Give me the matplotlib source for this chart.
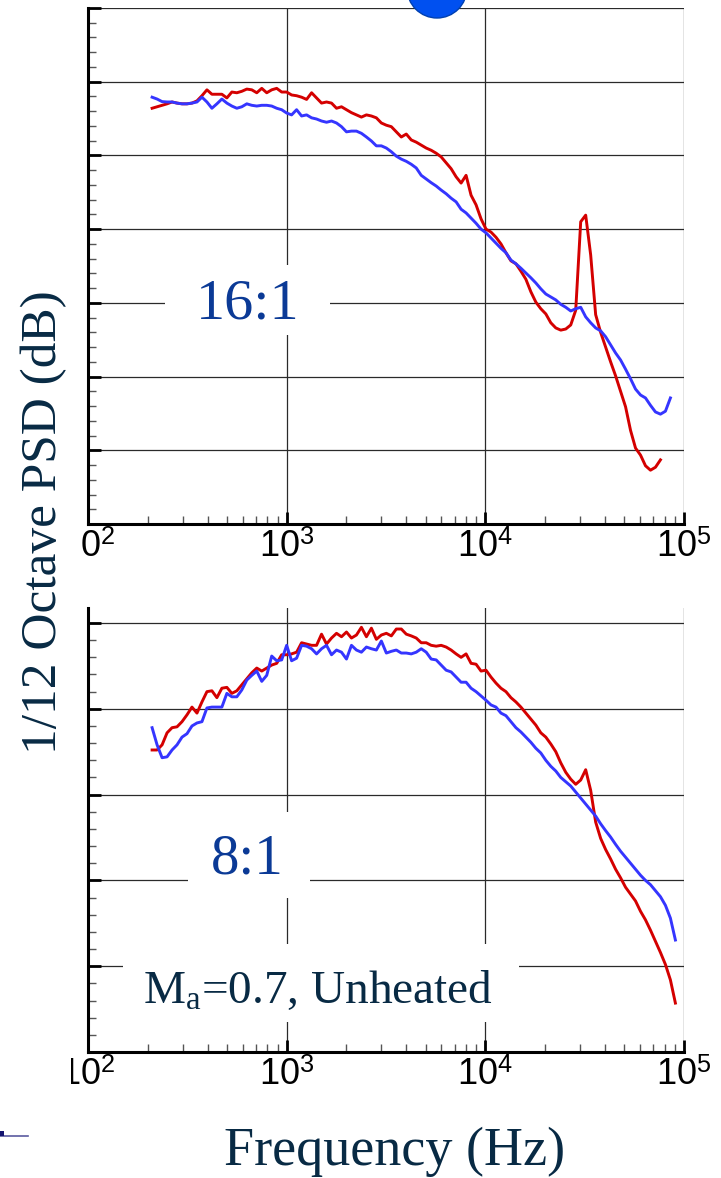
import matplotlib.pyplot as plt
from matplotlib.patches import Rectangle, Ellipse
from matplotlib.lines import Line2D
from matplotlib.ticker import MultipleLocator, NullFormatter, LogLocator

plt.rcParams['font.family'] = ['Liberation Serif', 'DejaVu Serif']
plt.rcParams['mathtext.fontset'] = 'custom'
plt.rcParams['mathtext.rm'] = 'Liberation Serif'
plt.rcParams['mathtext.it'] = 'Liberation Serif:italic'
plt.rcParams['mathtext.sf'] = 'Liberation Sans'

# 1/12 octave band centre frequencies (Hz)
freq = [210.2, 222.7, 236.0, 250.0, 264.9, 280.6, 297.3, 315.0, 333.7, 353.6,
        374.6, 396.9, 420.4, 445.4, 471.9, 500.0, 529.7, 561.2, 594.6, 630.0,
        667.4, 707.1, 749.2, 793.7, 840.9, 890.9, 943.9, 1000, 1059, 1122,
        1189, 1260, 1335, 1414, 1498, 1587, 1682, 1782, 1888, 2000,
        2119, 2245, 2378, 2520, 2670, 2828, 2997, 3175, 3364, 3564,
        3776, 4000, 4238, 4490, 4757, 5040, 5339, 5657, 5993, 6350,
        6727, 7127, 7551, 8000, 8476, 8980, 9514, 10079, 10679, 11314,
        11986, 12699, 13454, 14254, 15102, 16000, 16951, 17959, 19027, 20159,
        21357, 22627, 23973, 25398, 26909, 28509, 30204, 32000, 33903, 35919,
        38055, 40318, 42715, 45255, 47946, 50797, 53817, 57018, 60408, 64000,
        67806, 71838, 76109, 80635, 85430, 90510]

# 16:1 nozzle
psd16_red = [116.4, 116.6, 116.8, 117.0, 117.25, 117.1, 117.0, 117.0, 117.1, 117.4,
             118.1, 118.9, 118.3, 118.3, 118.3, 117.8, 118.6, 118.5, 118.7, 119.0,
             118.9, 118.5, 119.1, 118.5, 118.9, 119.1, 118.6, 118.6, 118.2, 118.1,
             117.9, 117.6, 118.5, 117.8, 117.1, 117.25, 117.1, 116.4, 116.6, 116.2,
             115.8, 115.5, 115.2, 115.5, 115.35, 115.1, 114.4, 114.1, 113.9, 113.2,
             112.5, 112.9, 112.1, 111.8, 111.4, 111.0, 110.7, 110.3, 109.8, 109.0,
             108.2, 107.1, 106.25, 107.3, 104.6, 103.3, 101.4, 100.0, 99.6, 98.9,
             98.0, 96.8, 95.7, 95.3, 94.3, 93.2, 91.5, 90.1, 89.2, 88.5,
             87.3, 86.6, 86.3, 86.45, 87.0, 89.0, 101.0, 101.9, 96.5, 88.4,
             86.0, 84.0, 82.0, 80.1, 78.0, 75.9, 72.7, 70.3, 69.35, 67.9,
             67.3, 67.7, 68.7]
psd16_blue = [117.9, 117.65, 117.3, 117.25, 117.25, 117.1, 117.0, 117.0, 117.1, 117.25,
              117.9, 117.25, 116.4, 117.0, 117.65, 117.1, 116.7, 116.4, 116.6, 117.0,
              116.8, 116.7, 116.8, 116.8, 116.7, 116.4, 116.2, 115.75, 115.5, 116.2,
              115.35, 115.5, 115.1, 114.94, 114.67, 114.5, 114.67, 114.4, 113.9, 113.2,
              113.3, 113.3, 113.0, 112.5, 111.96, 111.3, 111.3, 111.0, 110.5, 109.9,
              109.5, 109.2, 108.8, 108.3, 107.3, 106.8, 106.3, 105.85, 105.3, 104.8,
              104.2, 103.7, 102.7, 102.2, 101.5, 100.8, 100.0, 99.5, 98.8, 98.1,
              97.4, 96.8, 95.8, 95.3, 94.7, 94.05, 93.4, 92.7, 91.9, 91.2,
              90.8, 90.4, 89.8, 89.4, 88.9, 89.2, 89.4, 88.1, 87.3, 86.6,
              86.2, 85.4, 84.3, 83.2, 82.25, 81.0, 79.7, 78.3, 77.5, 77.1,
              76.1, 75.2, 74.9, 75.3, 77.1]

# 8:1 nozzle
psd8_red = [115.2, 115.2, 115.8, 117.2, 117.8, 117.9, 118.5, 119.3, 120.2, 119.5,
            120.8, 122.0, 122.1, 121.3, 122.4, 122.5, 121.8, 122.1, 122.8, 123.5,
            124.2, 124.75, 124.4, 124.75, 125.1, 125.3, 126.3, 126.3, 126.4, 126.6,
            127.7, 127.55, 127.4, 127.4, 128.7, 127.55, 128.25, 128.8, 128.4, 128.95,
            128.25, 128.6, 129.5, 128.4, 129.4, 128.1, 128.6, 128.8, 128.5, 129.3,
            129.3, 128.7, 128.5, 128.25, 127.7, 127.7, 127.4, 127.3, 127.4, 127.2,
            126.85, 126.4, 126.0, 126.4, 125.3, 125.2, 124.4, 124.5, 123.7, 123.0,
            122.4, 122.0, 121.3, 120.8, 120.2, 119.5, 118.8, 118.1, 117.2, 116.7,
            115.9, 115.0, 113.7, 112.6, 111.8, 111.2, 111.7, 112.9, 110.5, 106.8,
            104.9, 103.6, 102.5, 101.3, 100.3, 99.2, 98.4, 97.6, 96.4, 95.4,
            94.2, 92.9, 91.6, 90.2, 88.4, 85.7]
psd8_blue = [117.8, 115.8, 114.3, 114.4, 115.2, 115.8, 116.7, 117.1, 118.0, 118.35,
             118.5, 120.1, 120.2, 120.2, 120.2, 121.8, 121.4, 121.4, 122.2, 123.35,
             123.9, 124.4, 123.2, 123.9, 126.15, 125.6, 125.7, 127.4, 125.6, 125.9,
             127.4, 127.3, 127.0, 126.4, 127.0, 127.4, 126.3, 126.85, 126.6, 125.8,
             127.4, 126.85, 126.6, 127.2, 127.0, 126.85, 127.9, 126.5, 126.7, 126.85,
             126.5, 126.5, 126.4, 126.6, 127.0, 126.6, 125.8, 125.7, 125.1, 124.5,
             124.3, 123.7, 123.1, 123.1, 122.4, 122.0, 121.5, 121.0, 120.45, 120.2,
             119.5, 119.2, 118.5, 117.8, 117.3, 116.7, 116.1, 115.4, 114.85, 114.0,
             113.3, 112.75, 112.0, 111.5, 111.0, 110.3, 109.6, 108.9, 108.2, 107.5,
             106.6, 105.8, 105.05, 104.2, 103.4, 102.7, 102.0, 101.3, 100.6, 100.0,
             99.5, 98.8, 98.1, 97.1, 95.6, 93.05]

xticks = [1e2, 1e3, 1e4, 1e5]
xticklabels = [r'$\mathsf{10}^{\mathsf{2}}$', r'$\mathsf{10}^{\mathsf{3}}$',
               r'$\mathsf{10}^{\mathsf{4}}$', r'$\mathsf{10}^{\mathsf{5}}$']

RED = '#d40000'
BLUE = '#3535ff'
NAVY = '#082a44'
LABELBLUE = '#0b3a96'

W, H = 721, 1178
fig = plt.figure(figsize=(W / 100, H / 100), dpi=100)
ax1 = fig.add_axes([88 / W, 1 - 524 / H, 596 / W, 516 / H])
ax2 = fig.add_axes([88 / W, 1 - 1052 / H, 596 / W, 444 / H])


def style(ax, ylo, yhi):
    ax.set_xscale('log')
    ax.set_xlim(1e2, 1e5)
    ax.set_ylim(ylo, yhi)
    ax.yaxis.set_major_locator(MultipleLocator(10))
    ax.yaxis.set_minor_locator(MultipleLocator(2))
    ax.yaxis.set_major_formatter(NullFormatter())
    ax.set_xticks(xticks)
    ax.set_xticklabels(xticklabels)
    ax.xaxis.set_minor_locator(LogLocator(base=10, subs=range(2, 10)))
    ax.xaxis.set_minor_formatter(NullFormatter())
    ax.grid(True, which='major', color='#2a2a2a', lw=0.9)
    for s in ['top', 'right']:
        ax.spines[s].set_visible(False)
    for s in ['left', 'bottom']:
        ax.spines[s].set_linewidth(2.2)
    ax.tick_params(which='major', direction='in', length=9, width=2, color='k',
                   labelsize=26, pad=5, top=False, right=False)
    ax.tick_params(which='minor', direction='in', length=6, width=1,
                   color='#555555', top=False, right=False)


style(ax1, 60, 130)
style(ax2, 80, 131.75)

ax1.plot(freq[:len(psd16_red)], psd16_red, color=RED, lw=2.1, zorder=3)
ax1.plot(freq[:len(psd16_blue)], psd16_blue, color=BLUE, lw=2.1, zorder=3)
ax2.plot(freq[:len(psd8_red)], psd8_red, color=RED, lw=2.1, zorder=3)
ax2.plot(freq[:len(psd8_blue)], psd8_blue, color=BLUE, lw=2.1, zorder=3)

# white label boxes hiding the grid
ax1.add_patch(Rectangle((0.129, 0.366), 0.277, 0.136, transform=ax1.transAxes,
                        facecolor='white', edgecolor='none', zorder=1.8))
ax2.add_patch(Rectangle((0.168, 0.347), 0.205, 0.194, transform=ax2.transAxes,
                        facecolor='white', edgecolor='none', zorder=1.8))
ax2.add_patch(Rectangle((0.0587, 0.0676), 0.664, 0.176, transform=ax2.transAxes,
                        facecolor='white', edgecolor='none', zorder=1.8))

ax1.text(0.2676, 0.399, '16:1', transform=ax1.transAxes, ha='center',
         va='baseline', fontsize=42, color=LABELBLUE, zorder=4)
ax2.text(0.2668, 0.401, '8:1', transform=ax2.transAxes, ha='center',
         va='baseline', fontsize=41, color=LABELBLUE, zorder=4)
ax2.text(0.0923, 0.110, r'M$_{\mathrm{a}}$=0.7, Unheated', transform=ax2.transAxes,
         ha='left', va='baseline', fontsize=34, color=NAVY, zorder=4)

# slide text box that hides part of the first tick labels
fig.patches.append(Rectangle((0, 1 - 570 / H), 81 / W, 42 / H, transform=fig.transFigure,
                             facecolor='white', edgecolor='none', zorder=5))
fig.patches.append(Rectangle((0, 1 - 1100 / H), 71 / W, 42 / H, transform=fig.transFigure,
                             facecolor='white', edgecolor='none', zorder=5))

fig.text(44 / W, 1 - 522 / H, '1/12 Octave PSD (dB)', rotation=90, ha='center',
         va='center', fontsize=37, color=NAVY, zorder=6)
fig.text(395 / W, 1 - 1165 / H, 'Frequency (Hz)', ha='center', va='baseline',
         fontsize=39, color=NAVY, zorder=6)

# slide decorations
fig.patches.append(Ellipse((437 / W, 1 + 12 / H), 60 / W, 60 / H, transform=fig.transFigure,
                           facecolor='#0050f0', edgecolor='#0040b0', lw=1, zorder=7))
fig.patches.append(Rectangle((0, 1 - 1136 / H), 4 / W, 5 / H, transform=fig.transFigure,
                             facecolor='#141470', edgecolor='none', zorder=7))
fig.lines.append(Line2D([0, 28 / W], [1 - 1136 / H, 1 - 1136 / H], transform=fig.transFigure,
                        color='#5a5aa0', lw=1.2, zorder=7))

fig.savefig('out.png', dpi=100, facecolor='white')
